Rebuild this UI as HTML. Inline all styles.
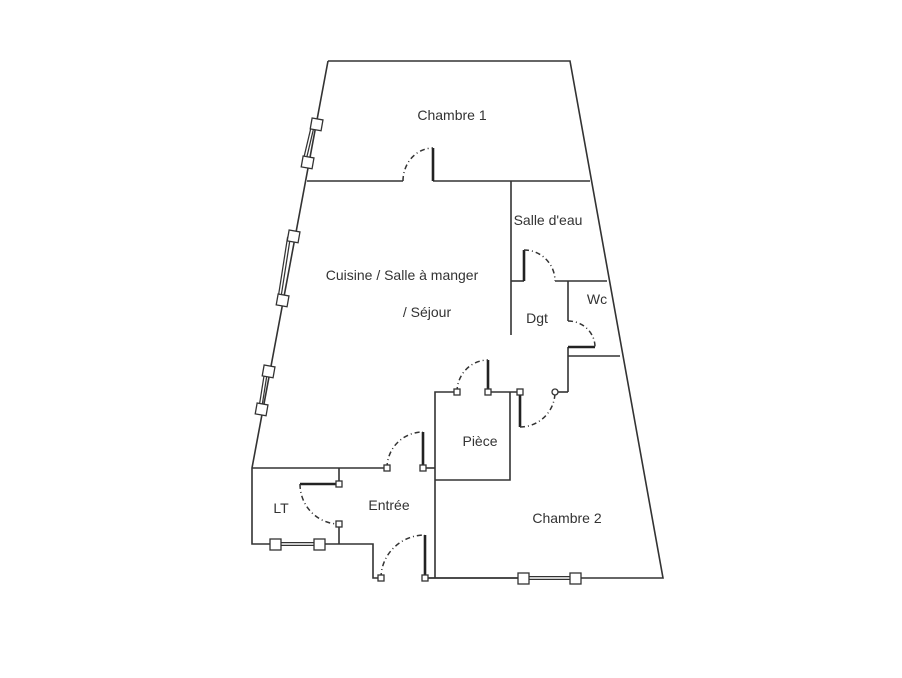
<!DOCTYPE html>
<html><head><style>
html,body{margin:0;padding:0;background:#fff;}
svg{display:block}
text{font-family:"Liberation Sans",sans-serif;font-size:14px;fill:#333;}
</style></head><body>
<svg width="902" height="678" viewBox="0 0 902 678" xmlns="http://www.w3.org/2000/svg">
<g stroke="#333" stroke-width="1.6" fill="none">
<!-- outer -->
<polyline points="328,61 570,61 663,578 425,578"/>
<polyline points="328,61 252,468 252,544 272,544"/>
<line x1="279" y1="544" x2="316" y2="544"/>
<polyline points="323,544 373,544 373,578 378,578"/>
<!-- chambre1 wall -->
<line x1="307" y1="181" x2="403" y2="181"/>
<line x1="433" y1="181" x2="590" y2="181"/>
<!-- vertical salle d'eau/dgt -->
<line x1="511" y1="181" x2="511" y2="335"/>
<line x1="511" y1="281" x2="524" y2="281"/>
<line x1="555" y1="281" x2="607" y2="281"/>
<line x1="568" y1="281" x2="568" y2="321"/>
<line x1="568" y1="347" x2="568" y2="392"/>
<line x1="568" y1="356" x2="620" y2="356"/>
<line x1="558" y1="392" x2="568" y2="392"/>
<!-- piece -->
<polyline points="454,392 435,392 435,578"/>
<line x1="491" y1="392" x2="517" y2="392"/>
<polyline points="510,392 510,480 435,480"/>
<!-- entree -->
<line x1="252" y1="468" x2="384" y2="468"/>
<line x1="426" y1="468" x2="435" y2="468"/>
<line x1="339" y1="468" x2="339" y2="481"/>
<line x1="339" y1="527" x2="339" y2="544"/>
<!-- bottom windows -->
<line x1="428" y1="578" x2="520" y2="578"/>
</g>
<!-- door leaves thick -->
<g stroke="#222" stroke-width="2.6">
<line x1="433" y1="148" x2="433" y2="181"/>
<line x1="524" y1="250" x2="524" y2="281"/>
<line x1="568" y1="347" x2="595" y2="347"/>
<line x1="488" y1="360" x2="488" y2="392"/>
<line x1="520" y1="392" x2="520" y2="427"/>
<line x1="423" y1="432" x2="423" y2="468"/>
<line x1="300" y1="484" x2="339" y2="484"/>
<line x1="425" y1="535" x2="425" y2="578"/>
</g>
<!-- arcs -->
<g stroke="#333" stroke-width="1.5" fill="none" stroke-dasharray="5,3,1,3">
<path d="M403,181 A30,33 0 0 1 433,148"/>
<path d="M524,250 A31,31 0 0 1 555,281"/>
<path d="M568,321 A27,26 0 0 1 595,347"/>
<path d="M457,392 A31,32 0 0 1 488,360"/>
<path d="M520,427 A35,35 0 0 0 555,392"/>
<path d="M387,468 A36,36 0 0 1 423,432"/>
<path d="M300,484 A39,40 0 0 0 339,524"/>
<path d="M381,578 A44,43 0 0 1 425,535"/>
</g>
<!-- windows -->
<g stroke="#333" stroke-width="1.3" fill="#fff">
<line x1="313" y1="125" x2="304" y2="163" stroke-width="4"/>
<line x1="313" y1="125" x2="304" y2="163" stroke="#fff" stroke-width="1.5"/>
<line x1="289" y1="237" x2="279" y2="301" stroke-width="4"/>
<line x1="289" y1="237" x2="279" y2="301" stroke="#fff" stroke-width="1.5"/>
<line x1="266" y1="372" x2="260" y2="410" stroke-width="4"/>
<line x1="266" y1="372" x2="260" y2="410" stroke="#fff" stroke-width="1.5"/>
<line x1="275" y1="544" x2="320" y2="544" stroke-width="4"/>
<line x1="275" y1="544" x2="320" y2="544" stroke="#fff" stroke-width="1.5"/>
<line x1="524" y1="578" x2="576" y2="578" stroke-width="4"/>
<line x1="524" y1="578" x2="576" y2="578" stroke="#fff" stroke-width="1.5"/>
<rect x="311" y="119" width="11" height="11" transform="rotate(10 317 125)"/>
<rect x="302" y="157" width="11" height="11" transform="rotate(10 308 163)"/>
<rect x="288" y="231" width="11" height="11" transform="rotate(10 294 237)"/>
<rect x="277" y="295" width="11" height="11" transform="rotate(10 283 301)"/>
<rect x="263" y="366" width="11" height="11" transform="rotate(10 269 372)"/>
<rect x="256" y="404" width="11" height="11" transform="rotate(10 262 410)"/>
<rect x="270" y="539" width="11" height="11"/>
<rect x="314" y="539" width="11" height="11"/>
<rect x="518" y="573" width="11" height="11"/>
<rect x="570" y="573" width="11" height="11"/>
<rect x="454" y="389" width="6" height="6"/>
<rect x="485" y="389" width="6" height="6"/>
<rect x="517" y="389" width="6" height="6"/>
<circle cx="555" cy="392" r="3"/>
<rect x="384" y="465" width="6" height="6"/>
<rect x="420" y="465" width="6" height="6"/>
<rect x="336" y="481" width="6" height="6"/>
<rect x="336" y="521" width="6" height="6"/>
<rect x="378" y="575" width="6" height="6"/>
<rect x="422" y="575" width="6" height="6"/>
</g>
<text x="452" y="120" text-anchor="middle">Chambre 1</text>
<text x="548" y="225" text-anchor="middle">Salle d'eau</text>
<text x="402" y="280" text-anchor="middle">Cuisine / Salle à manger</text>
<text x="427" y="317" text-anchor="middle">/ Séjour</text>
<text x="537" y="323" text-anchor="middle">Dgt</text>
<text x="597" y="304" text-anchor="middle">Wc</text>
<text x="480" y="446" text-anchor="middle">Pièce</text>
<text x="281" y="513" text-anchor="middle">LT</text>
<text x="389" y="510" text-anchor="middle">Entrée</text>
<text x="567" y="523" text-anchor="middle">Chambre 2</text>
</svg>
</body></html>
